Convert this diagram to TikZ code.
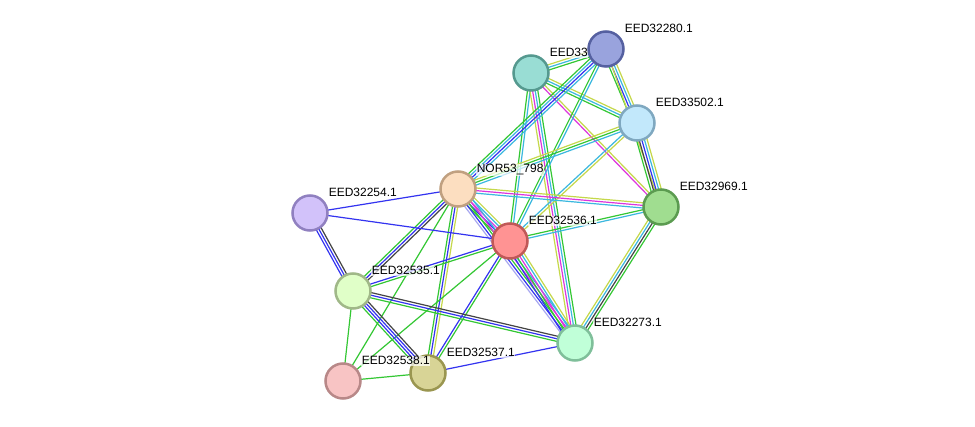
\documentclass[tikz,border=0pt]{standalone}
\usepackage{fontspec}
\setmainfont{Liberation Sans}
\usetikzlibrary{calc}
\pgfdeclarelayer{bg}
\pgfsetlayers{bg,main}
\definecolor{eg}{HTML}{33C733}
\definecolor{eb}{HTML}{3333F0}
\definecolor{ek}{HTML}{444444}
\definecolor{ey}{HTML}{C5D84A}
\definecolor{ec}{HTML}{3BB8DF}
\definecolor{em}{HTML}{DD35DD}
\definecolor{el}{HTML}{A8A8F0}
\tikzset{
  prot/.style={circle, minimum size=35pt, inner sep=0pt, line width=2.5pt},
  lab/.style={anchor=base west, font=\fontsize{12}{12}\selectfont, inner sep=0.6pt,
              fill=white, fill opacity=0.7, text opacity=1},
  ln/.style={line width=1.2pt}
}
\newcommand\lnk[4]{%
  \foreach \cc [count=\ii] in {#4} {%
    \pgfmathsetmacro\off{(\ii-(#3+1)/2)*2.6}%
    \draw[ln, draw=\cc] ($(#1)!\off pt!90:(#2)$) -- ($(#2)!\off pt!-90:(#1)$);
  }}
\begin{document}
\begin{tikzpicture}[x=1pt,y=-1pt]
\useasboundingbox (0,0) rectangle (975,427);
% nodes in drawing order, each with its label
\node[prot, fill={rgb,255:red,210;green,194;blue,250}, draw={rgb,255:red,144;green,128;blue,192}] (S) at (310,213) {};
\node[lab] (lS) at ($(S)+(18,-16)$) {EED32254.1};
\node[prot, fill={rgb,255:red,224;green,255;blue,200}, draw={rgb,255:red,160;green,184;blue,136}] (D) at (353,291) {};
\node[lab] (lD) at ($(D)+(18,-16)$) {EED32535.1};
\node[prot, fill={rgb,255:red,252;green,222;blue,192}, draw={rgb,255:red,192;green,160;blue,128}] (N) at (458,189) {};
\node[lab] (lN) at ($(N)+(18,-16)$) {NOR53\_798};
\node[prot, fill={rgb,255:red,255;green,147;blue,147}, draw={rgb,255:red,192;green,88;blue,88}] (C) at (510,241) {};
\node[lab] (lC) at ($(C)+(18,-16)$) {EED32536.1};
\node[prot, fill={rgb,255:red,192;green,255;blue,216}, draw={rgb,255:red,127;green,191;blue,154}] (G) at (575,343) {};
\node[lab] (lG) at ($(G)+(18,-16)$) {EED32273.1};
\node[prot, fill={rgb,255:red,216;green,212;blue,150}, draw={rgb,255:red,154;green,150;blue,80}] (F) at (428,373) {};
\node[lab] (lF) at ($(F)+(18,-16)$) {EED32537.1};
\node[prot, fill={rgb,255:red,248;green,196;blue,196}, draw={rgb,255:red,184;green,136;blue,136}] (E) at (343,381) {};
\node[lab] (lE) at ($(E)+(18,-16)$) {EED32538.1};
\node[prot, fill={rgb,255:red,160;green,221;blue,144}, draw={rgb,255:red,91;green,155;blue,80}] (R) at (661,207) {};
\node[lab] (lR) at ($(R)+(18,-16)$) {EED32969.1};
\node[prot, fill={rgb,255:red,194;green,232;blue,251}, draw={rgb,255:red,127;green,168;blue,192}] (Q) at (637,123) {};
\node[lab] (lQ) at ($(Q)+(18,-16)$) {EED33502.1};
\node[prot, fill={rgb,255:red,153;green,221;blue,212}, draw={rgb,255:red,85;green,153;blue,143}] (T) at (531,73) {};
\node[lab] (lT) at ($(T)+(18,-16)$) {EED33};
\node[prot, fill={rgb,255:red,153;green,163;blue,221}, draw={rgb,255:red,85;green,96;blue,160}] (P) at (606,49) {};
\node[lab] (lP) at ($(P)+(18,-16)$) {EED32280.1};
\begin{pgfonlayer}{bg}
\fill[white] (0,0) rectangle (975,427);
\lnk{T}{P}{3}{eg,ec,ey}
\lnk{T}{Q}{3}{eg,ec,ey}
\lnk{T}{R}{2}{em,ey}
\lnk{T}{C}{2}{eg,ec}
\lnk{T}{G}{4}{ey,em,ec,eg}
\lnk{P}{Q}{4}{eg,eb,ec,ey}
\lnk{P}{N}{4}{eg,ec,eb,ec}
\lnk{P}{C}{2}{eg,ec}
\lnk{P}{R}{1}{ey}
\lnk{Q}{N}{3}{ey,eg,ec}
\lnk{Q}{C}{2}{ec,ey}
\lnk{Q}{R}{5}{eg,ek,eb,ec,ey}
\lnk{R}{N}{3}{ey,em,ec}
\lnk{R}{C}{2}{eg,ec}
\lnk{R}{G}{4}{ey,ec,ek,eg}
\lnk{N}{S}{1}{eb}
\lnk{N}{C}{5}{eg,eb,em,ec,ey}
\lnk{N}{D}{3}{eg,eb,ek}
\lnk{N}{F}{3}{eg,eb,ey}
\lnk{N}{E}{1}{eg}
\lnk{N}{G}{5}{el,eb,eg,em,ec}
\lnk{C}{S}{1}{eb}
\lnk{C}{D}{2}{eb,eg}
\lnk{C}{F}{2}{eb,eg}
\lnk{C}{E}{1}{eg}
\lnk{C}{G}{5}{eb,eg,em,ec,ey}
\lnk{S}{D}{3}{eb,eb,ek}
\lnk{D}{F}{4}{eg,eb,eb,ek}
\lnk{D}{G}{3}{eg,eb,ek}
\lnk{D}{E}{1}{eg}
\lnk{F}{G}{1}{eb}
\lnk{F}{E}{1}{eg}
\end{pgfonlayer}
\end{tikzpicture}
\end{document}
